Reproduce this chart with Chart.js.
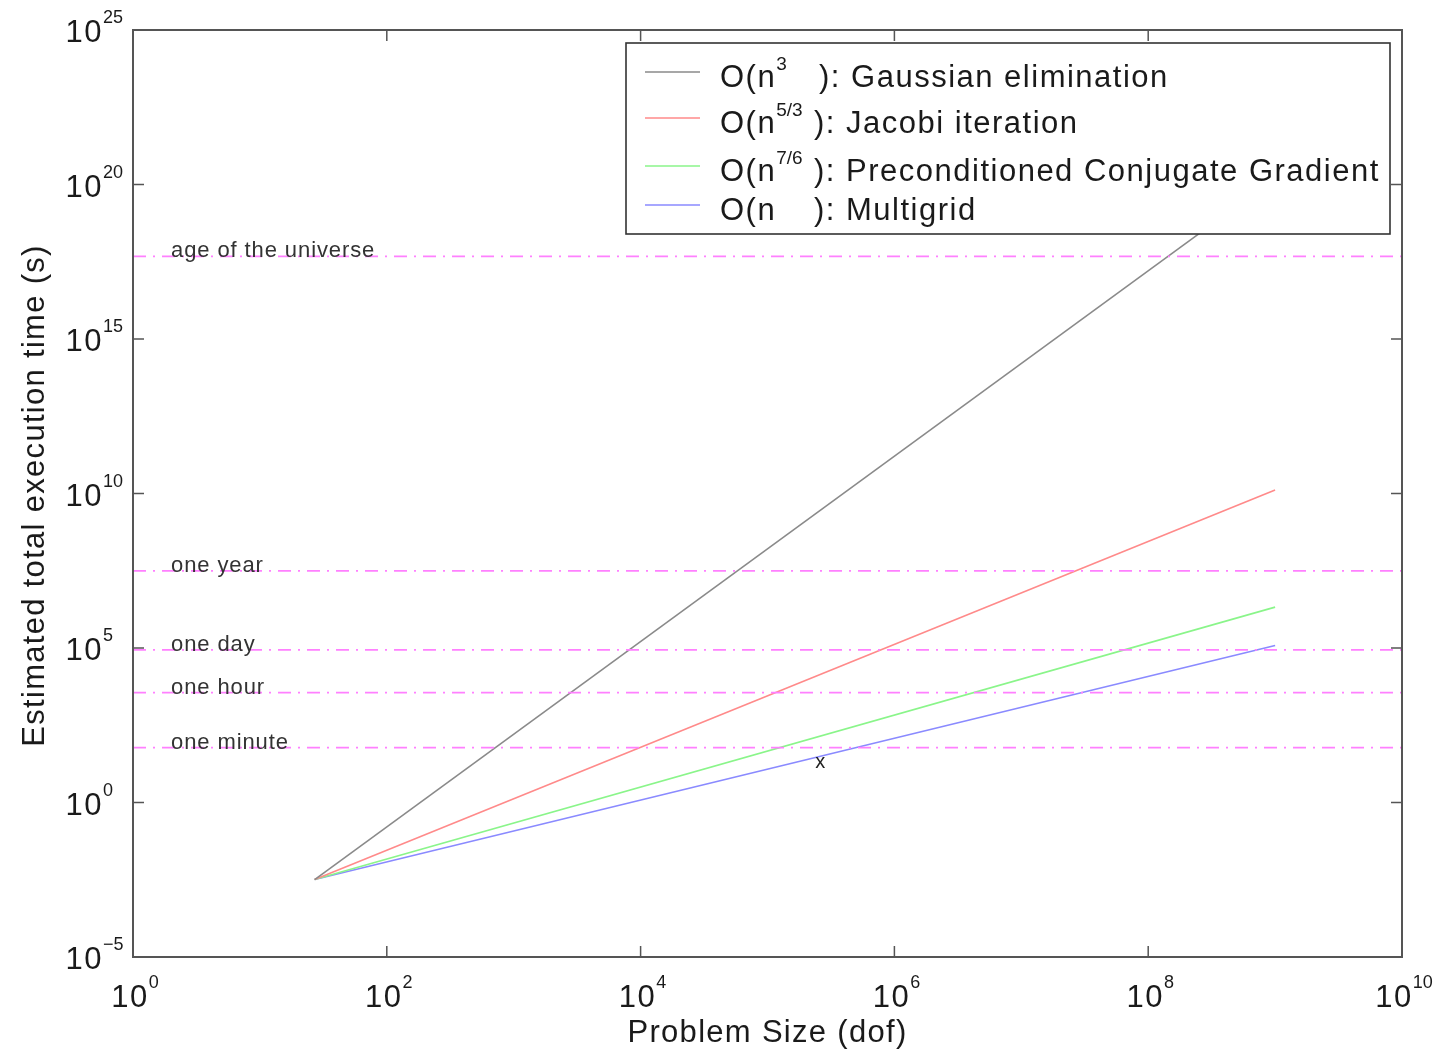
<!DOCTYPE html>
<html lang="en">
<head>
    <meta charset="UTF-8">
    <title>Execution time vs problem size</title>
    <script src="https://cdn.jsdelivr.net/npm/chart.js"></script>
    <style>
        html, body { margin: 0; padding: 0; background: #fff; }
        #wrap { width: 1440px; height: 1053px; }
    </style>
</head>
<body>
    <div id="wrap"><canvas id="myChart" width="1440" height="1053"></canvas></div>
    <script>
        // problem sizes (dof) at the two ends of each line
        const sizes = [27, 1e9];
        const gaussTime = [3.2e-3, 1.6e20];
        const jacobiTime = [3.2e-3, 1.3e10];
        const pcgTime = [3.2e-3, 2.1e6];
        const mgTime = [3.2e-3, 1.2e5];

        // reference times (s)
        const refLabels = ['age of the universe', 'one year', 'one day', 'one hour', 'one minute'];
        const refTimes = [4.7e17, 3.15e7, 86400, 3600, 60];

        // the lone "x" mark
        const markX = [2.6e5];
        const markY = [19.6];

        const xTicks = [1, 1e2, 1e4, 1e6, 1e8, 1e10];
        const yTicks = [1e-5, 1, 1e5, 1e10, 1e15, 1e20, 1e25];

        const legendNames = ['Gaussian elimination', 'Jacobi iteration', 'Preconditioned Conjugate Gradient', 'Multigrid'];
        const legendPowers = ['3', '5/3', '7/6', ''];
        const colors = ['#8a8a8a', '#ff8a8a', '#8af58a', '#8a8aff'];

        const FONT = '"Liberation Sans", Arial, Helvetica, sans-serif';

        function pts(ys) {
            return sizes.map((x, i) => ({ x: x, y: ys[i] }));
        }

        const datasets = [];
        refTimes.forEach(t => {
            datasets.push({
                data: [{ x: 1, y: t }, { x: 1e10, y: t }],
                borderColor: '#ff80ff',
                borderWidth: 1.8,
                borderDash: [13, 7, 2, 7],
                pointRadius: 0
            });
        });
        [gaussTime, jacobiTime, pcgTime, mgTime].forEach((ys, i) => {
            datasets.push({
                data: pts(ys),
                borderColor: colors[i],
                borderWidth: 1.6,
                pointRadius: 0
            });
        });

        function exp(v) {
            return String(Math.round(Math.log10(v))).replace('-', '\u2212');
        }

        // "10" with a superscript exponent
        function powerLabel(ctx, e, x, y, align) {
            ctx.letterSpacing = '1.5px';
            ctx.font = '31px ' + FONT;
            const wb = ctx.measureText('10').width;
            ctx.letterSpacing = '0px';
            ctx.font = '18px ' + FONT;
            const ws = ctx.measureText(e).width;
            let x0 = align === 'right' ? x - wb : x - (wb + ws) / 2;
            ctx.textAlign = 'left';
            ctx.textBaseline = 'alphabetic';
            ctx.letterSpacing = '1.5px';
            ctx.font = '31px ' + FONT;
            ctx.fillText('10', x0, y);
            ctx.letterSpacing = '0px';
            ctx.font = '18px ' + FONT;
            ctx.fillText(e, x0 + wb, y - 19);
        }

        const decor = {
            id: 'decor',
            afterDraw(chart) {
                const ctx = chart.ctx;
                const a = chart.chartArea;
                const xs = chart.scales.x, ys = chart.scales.y;
                ctx.save();

                // reference line labels
                ctx.fillStyle = '#333';
                ctx.font = '22px ' + FONT;
                ctx.letterSpacing = '0.9px';
                ctx.textBaseline = 'alphabetic';
                ctx.textAlign = 'left';
                refTimes.forEach((t, i) => {
                    ctx.fillText(refLabels[i], 171, ys.getPixelForValue(t) + 1);
                });
                ctx.letterSpacing = '0px';

                // x mark
                ctx.fillStyle = '#222';
                ctx.font = '20px ' + FONT;
                ctx.textAlign = 'center';
                ctx.textBaseline = 'middle';
                markX.forEach((v, i) => {
                    ctx.fillText('x', xs.getPixelForValue(v), ys.getPixelForValue(markY[i]));
                });

                // box and inward ticks
                ctx.strokeStyle = '#555';
                ctx.lineWidth = 2;
                ctx.strokeRect(a.left, a.top, a.right - a.left, a.bottom - a.top);
                ctx.lineWidth = 1.5;
                ctx.beginPath();
                xTicks.forEach(v => {
                    const p = xs.getPixelForValue(v);
                    ctx.moveTo(p, a.bottom); ctx.lineTo(p, a.bottom - 11);
                    ctx.moveTo(p, a.top); ctx.lineTo(p, a.top + 11);
                });
                yTicks.forEach(v => {
                    const p = ys.getPixelForValue(v);
                    ctx.moveTo(a.left, p); ctx.lineTo(a.left + 11, p);
                    ctx.moveTo(a.right, p); ctx.lineTo(a.right - 11, p);
                });
                ctx.stroke();

                // tick labels
                ctx.fillStyle = '#1a1a1a';
                xTicks.forEach(v => {
                    powerLabel(ctx, exp(v), xs.getPixelForValue(v) + 2, 1007, 'center');
                });
                yTicks.forEach(v => {
                    powerLabel(ctx, exp(v), 103, ys.getPixelForValue(v) + 12, 'right');
                });

                // axis titles
                ctx.font = '31px ' + FONT;
                ctx.textAlign = 'center';
                ctx.textBaseline = 'alphabetic';
                ctx.letterSpacing = '1.3px';
                ctx.fillText('Problem Size (dof)', (a.left + a.right) / 2, 1042);
                ctx.save();
                ctx.translate(44, (a.top + a.bottom) / 2 + 2);
                ctx.rotate(-Math.PI / 2);
                ctx.fillText('Estimated total execution time (s)', 0, 0);
                ctx.restore();
                ctx.letterSpacing = '0px';

                // legend
                const L = { x: 626, y: 43, w: 764, h: 191 };
                ctx.fillStyle = '#fff';
                ctx.fillRect(L.x, L.y, L.w, L.h);
                ctx.strokeStyle = '#333';
                ctx.lineWidth = 1.6;
                ctx.strokeRect(L.x, L.y, L.w, L.h);
                const rowY = [87, 133, 181, 220];
                legendNames.forEach((name, i) => {
                    const y = rowY[i];
                    ctx.strokeStyle = colors[i];
                    ctx.lineWidth = 1.6;
                    ctx.beginPath();
                    ctx.moveTo(645, y - 15);
                    ctx.lineTo(700, y - 15);
                    ctx.stroke();
                    ctx.fillStyle = '#1a1a1a';
                    ctx.textAlign = 'left';
                    ctx.letterSpacing = '1.5px';
                    ctx.font = '31px ' + FONT;
                    ctx.fillText('O(n', 720, y);
                    const w = ctx.measureText('O(n').width;
                    ctx.letterSpacing = '0px';
                    ctx.font = '19px ' + FONT;
                    ctx.fillText(legendPowers[i], 720 + w, y - 17);
                    ctx.letterSpacing = '1.5px';
                    ctx.font = '31px ' + FONT;
                    ctx.fillText('): ' + name, i === 0 ? 819 : 814, y);
                    ctx.letterSpacing = '0px';
                });

                ctx.restore();
            }
        };

        const ctx = document.getElementById('myChart').getContext('2d');
        const myChart = new Chart(ctx, {
            type: 'line',
            data: { datasets: datasets },
            options: {
                responsive: false,
                animation: false,
                layout: { padding: { left: 0, top: 30, right: 38, bottom: 0 } },
                plugins: {
                    legend: { display: false },
                    tooltip: { enabled: false }
                },
                elements: { line: { tension: 0 } },
                scales: {
                    x: {
                        type: 'logarithmic',
                        min: 1,
                        max: 1e10,
                        grid: { display: false },
                        border: { display: false },
                        ticks: { display: false },
                        afterFit: s => { s.height = 96; }
                    },
                    y: {
                        type: 'logarithmic',
                        min: 1e-5,
                        max: 1e25,
                        grid: { display: false },
                        border: { display: false },
                        ticks: { display: false },
                        afterFit: s => { s.width = 133; }
                    }
                }
            },
            plugins: [decor]
        });
    </script>
</body>
</html>
